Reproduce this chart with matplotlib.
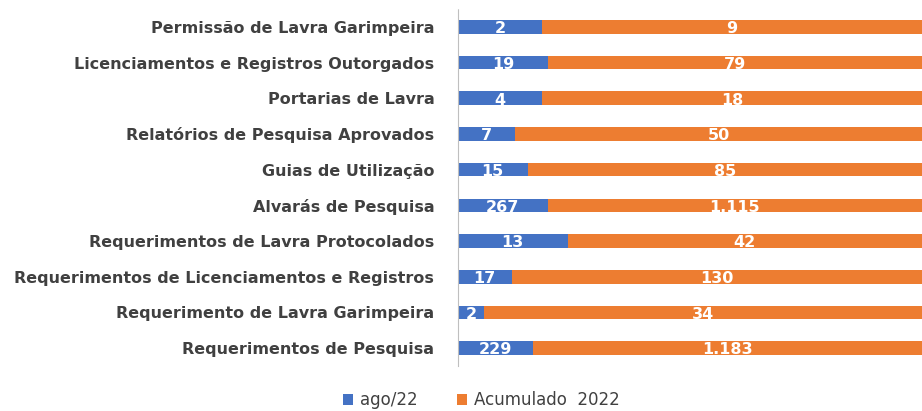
import matplotlib
matplotlib.use("Agg")
import matplotlib.pyplot as plt
import numpy as np

categories = ["Requerimentos de Pesquisa", "Requerimento de Lavra Garimpeira",
              "Requerimentos de Licenciamentos e Registros", "Requerimentos de Lavra Protocolados",
              "Alvarás de Pesquisa", "Guias de Utilização", "Relatórios de Pesquisa Aprovados",
              "Portarias de Lavra", "Licenciamentos e Registros Outorgados", "Permissão de Lavra Garimpeira"]
ago22 = [229, 2, 17, 13, 267, 15, 7, 4, 19, 2]
acum2022 = [1183, 34, 130, 42, 1115, 85, 50, 18, 79, 9]
series_names = ["ago/22", "Acumulado  2022"]

def fmt(v):
    return f"{v:,}".replace(",", ".")

plt.rcParams['font.family'] = ['DejaVu Sans']
fig = plt.figure(figsize=(9.22, 4.11), dpi=100)
ax = fig.add_axes([0.4967, 0.1095, 0.5033, 0.8685])

a = np.array(ago22, float)
b = np.array(acum2022, float)
tot = a + b
pa = a / tot * 100
pb = b / tot * 100
y = np.arange(len(categories))
blue = "#4472C4"
orange = "#ED7D31"
h = 0.38
bars1 = ax.barh(y, pa, height=h, color=blue, label=series_names[0])
bars2 = ax.barh(y, pb, left=pa, height=h, color=orange, label=series_names[1])
for i in range(len(y)):
    ax.text(pa[i] / 2, y[i] - 0.05, fmt(ago22[i]), ha="center", va="center", color="white",
            fontsize=11.5, fontweight="bold")
    ax.text(pa[i] + pb[i] / 2, y[i] - 0.05, fmt(acum2022[i]), ha="center", va="center", color="white",
            fontsize=11.5, fontweight="bold")

ax.set_xlim(0, 100)
ax.set_ylim(-0.5, 9.5)
ax.set_yticks(y)
ax.set_yticklabels(categories, fontsize=11.5, color="#404040", fontweight="bold")
ax.tick_params(axis="y", length=0, pad=17)
ax.set_xticks([])
for s in ["top", "right", "bottom"]:
    ax.spines[s].set_visible(False)
ax.spines["left"].set_color("#BFBFBF")
ax.spines["left"].set_linestyle((0, (1, 1)))

leg = fig.legend(handles=[bars1, bars2], labels=series_names, loc="center",
                 bbox_to_anchor=(0.522, 0.026), ncol=2, frameon=False, fontsize=12,
                 handlelength=0.6, handleheight=0.6, columnspacing=2.4, handletextpad=0.4,
                 borderpad=0.1)
for t in leg.get_texts():
    t.set_color("#404040")

fig.savefig("out.png", dpi=100)
